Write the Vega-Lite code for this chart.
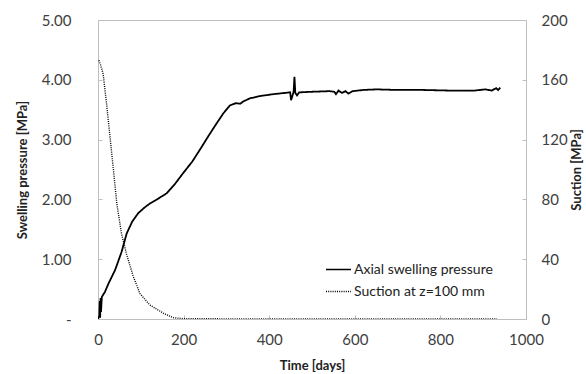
{
  "$schema": "https://vega.github.io/schema/vega-lite/v6.json",
  "width": 428,
  "height": 299,
  "autosize": "none",
  "padding": {"left": 98, "top": 20, "right": 60, "bottom": 55},
  "background": "white",
  "config": {
    "font": "Lato",
    "view": {"stroke": "#bfbfbf", "strokeWidth": 1},
    "axis": {"grid": false, "domain": false, "labelFont": "Lato", "titleFont": "Lato", "labelColor": "#404040", "titleColor": "#222", "tickColor": "#bfbfbf", "labelFontSize": 15, "titleFontSize": 13, "titleFontWeight": "bold", "labelFlush": false}
  },
  "datasets": {
    "swell": [
      {"t": 0, "p": 0, "s": "Axial swelling pressure"},
      {"t": 3, "p": 0.05, "s": "Axial swelling pressure"},
      {"t": 4, "p": 0.3, "s": "Axial swelling pressure"},
      {"t": 5, "p": 0.02, "s": "Axial swelling pressure"},
      {"t": 6, "p": 0.35, "s": "Axial swelling pressure"},
      {"t": 7, "p": 0.12, "s": "Axial swelling pressure"},
      {"t": 9, "p": 0.37, "s": "Axial swelling pressure"},
      {"t": 16, "p": 0.45, "s": "Axial swelling pressure"},
      {"t": 25, "p": 0.6, "s": "Axial swelling pressure"},
      {"t": 40, "p": 0.82, "s": "Axial swelling pressure"},
      {"t": 55, "p": 1.12, "s": "Axial swelling pressure"},
      {"t": 67, "p": 1.43, "s": "Axial swelling pressure"},
      {"t": 80, "p": 1.63, "s": "Axial swelling pressure"},
      {"t": 94, "p": 1.77, "s": "Axial swelling pressure"},
      {"t": 108, "p": 1.86, "s": "Axial swelling pressure"},
      {"t": 121, "p": 1.93, "s": "Axial swelling pressure"},
      {"t": 140, "p": 2.01, "s": "Axial swelling pressure"},
      {"t": 160, "p": 2.1, "s": "Axial swelling pressure"},
      {"t": 180, "p": 2.26, "s": "Axial swelling pressure"},
      {"t": 199, "p": 2.44, "s": "Axial swelling pressure"},
      {"t": 220, "p": 2.63, "s": "Axial swelling pressure"},
      {"t": 238, "p": 2.83, "s": "Axial swelling pressure"},
      {"t": 258, "p": 3.06, "s": "Axial swelling pressure"},
      {"t": 277, "p": 3.27, "s": "Axial swelling pressure"},
      {"t": 293, "p": 3.44, "s": "Axial swelling pressure"},
      {"t": 308, "p": 3.57, "s": "Axial swelling pressure"},
      {"t": 322, "p": 3.61, "s": "Axial swelling pressure"},
      {"t": 332, "p": 3.6, "s": "Axial swelling pressure"},
      {"t": 340, "p": 3.64, "s": "Axial swelling pressure"},
      {"t": 355, "p": 3.69, "s": "Axial swelling pressure"},
      {"t": 380, "p": 3.73, "s": "Axial swelling pressure"},
      {"t": 410, "p": 3.76, "s": "Axial swelling pressure"},
      {"t": 449, "p": 3.79, "s": "Axial swelling pressure"},
      {"t": 451, "p": 3.66, "s": "Axial swelling pressure"},
      {"t": 453, "p": 3.7, "s": "Axial swelling pressure"},
      {"t": 457, "p": 3.8, "s": "Axial swelling pressure"},
      {"t": 459, "p": 4.05, "s": "Axial swelling pressure"},
      {"t": 461, "p": 3.78, "s": "Axial swelling pressure"},
      {"t": 465, "p": 3.74, "s": "Axial swelling pressure"},
      {"t": 470, "p": 3.79, "s": "Axial swelling pressure"},
      {"t": 500, "p": 3.8, "s": "Axial swelling pressure"},
      {"t": 540, "p": 3.81, "s": "Axial swelling pressure"},
      {"t": 552, "p": 3.8, "s": "Axial swelling pressure"},
      {"t": 556, "p": 3.76, "s": "Axial swelling pressure"},
      {"t": 562, "p": 3.82, "s": "Axial swelling pressure"},
      {"t": 570, "p": 3.78, "s": "Axial swelling pressure"},
      {"t": 578, "p": 3.81, "s": "Axial swelling pressure"},
      {"t": 585, "p": 3.77, "s": "Axial swelling pressure"},
      {"t": 595, "p": 3.81, "s": "Axial swelling pressure"},
      {"t": 620, "p": 3.83, "s": "Axial swelling pressure"},
      {"t": 650, "p": 3.84, "s": "Axial swelling pressure"},
      {"t": 700, "p": 3.83, "s": "Axial swelling pressure"},
      {"t": 760, "p": 3.83, "s": "Axial swelling pressure"},
      {"t": 820, "p": 3.82, "s": "Axial swelling pressure"},
      {"t": 880, "p": 3.82, "s": "Axial swelling pressure"},
      {"t": 905, "p": 3.84, "s": "Axial swelling pressure"},
      {"t": 920, "p": 3.82, "s": "Axial swelling pressure"},
      {"t": 930, "p": 3.86, "s": "Axial swelling pressure"},
      {"t": 935, "p": 3.83, "s": "Axial swelling pressure"},
      {"t": 940, "p": 3.87, "s": "Axial swelling pressure"}
    ],
    "suction": [
      {"t": 2, "v": 173, "s": "Suction at z=100 mm"},
      {"t": 6, "v": 170, "s": "Suction at z=100 mm"},
      {"t": 12, "v": 164, "s": "Suction at z=100 mm"},
      {"t": 20, "v": 144, "s": "Suction at z=100 mm"},
      {"t": 28, "v": 122, "s": "Suction at z=100 mm"},
      {"t": 36, "v": 100, "s": "Suction at z=100 mm"},
      {"t": 44, "v": 77, "s": "Suction at z=100 mm"},
      {"t": 55, "v": 57, "s": "Suction at z=100 mm"},
      {"t": 67, "v": 43, "s": "Suction at z=100 mm"},
      {"t": 83, "v": 28, "s": "Suction at z=100 mm"},
      {"t": 98, "v": 17, "s": "Suction at z=100 mm"},
      {"t": 121, "v": 9.4, "s": "Suction at z=100 mm"},
      {"t": 153, "v": 3.8, "s": "Suction at z=100 mm"},
      {"t": 176, "v": 0.9, "s": "Suction at z=100 mm"},
      {"t": 200, "v": 0.2, "s": "Suction at z=100 mm"},
      {"t": 400, "v": 0, "s": "Suction at z=100 mm"},
      {"t": 700, "v": 0, "s": "Suction at z=100 mm"},
      {"t": 932, "v": 0, "s": "Suction at z=100 mm"}
    ]
  },
  "encoding": {
    "x": {"field": "t", "type": "quantitative", "scale": {"domain": [0, 1000], "nice": false},
      "axis": {"values": [0, 200, 400, 600, 800, 1000], "format": "d", "title": "Time [days]", "tickSize": -4, "labelPadding": 17, "titlePadding": 12, "labelFlush": false}}
  },
  "layer": [
    {
      "data": {"name": "swell"},
      "mark": {"type": "line", "color": "black", "strokeWidth": 1.8, "clip": true},
      "encoding": {
        "y": {"field": "p", "type": "quantitative", "scale": {"domain": [0, 5], "nice": false},
          "axis": {"orient": "left", "values": [0, 1, 2, 3, 4, 5], "title": "Swelling pressure [MPa]", "labelExpr": "datum.value == 0 ? '-' : format(datum.value, '.2f')", "tickSize": -4, "labelPadding": 31, "titlePadding": 12, "labelFlush": false}},
        "strokeDash": {"field": "s", "type": "nominal",
          "scale": {"domain": ["Axial swelling pressure", "Suction at z=100 mm"], "range": [[1, 0], [1, 1.2]]},
          "legend": {"orient": "none", "legendX": 227, "legendY": 236, "title": null, "symbolType": "stroke", "symbolSize": 625, "symbolStrokeWidth": 1.4, "symbolStrokeColor": "black", "labelFontSize": 14, "labelFont": "Lato", "labelColor": "#222", "labelOffset": 2, "rowPadding": 1, "padding": 0}}
      }
    },
    {
      "data": {"name": "suction"},
      "mark": {"type": "line", "color": "black", "strokeWidth": 1.4, "clip": true},
      "encoding": {
        "y": {"field": "v", "type": "quantitative", "scale": {"domain": [0, 200], "nice": false},
          "axis": {"orient": "right", "values": [0, 40, 80, 120, 160, 200], "title": "Suction [MPa]", "titleAngle": -90, "tickSize": -4, "labelPadding": 19, "titlePadding": 16, "labelFlush": false}},
        "strokeDash": {"field": "s", "type": "nominal"}
      }
    }
  ],
  "resolve": {"scale": {"y": "independent"}}
}
